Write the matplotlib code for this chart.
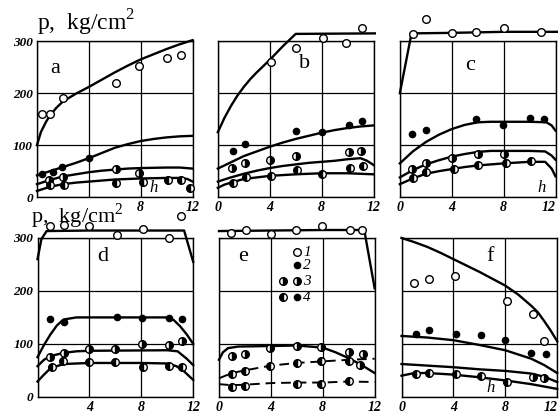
import matplotlib
matplotlib.use("Agg")
import matplotlib.pyplot as plt

plt.rcParams['font.family'] = ['Liberation Serif', 'DejaVu Serif']
plt.rcParams['mathtext.fontset'] = 'custom'
plt.rcParams['mathtext.rm'] = 'Liberation Serif'

# x axis ticks / y axis ticks
x_ticks = [0, 4, 8, 12]
y_ticks = [0, 100, 200, 300]

# ---- panel a ----
a_line1 = [(0, 100), (0.3, 125), (0.7, 145), (1, 157), (1.5, 172), (2, 184), (3, 199), (4, 212),
           (5, 226), (6, 240), (7, 253), (8, 265), (9, 275), (10, 285), (11, 294), (12, 302)]
a_line2 = [(0, 42), (1, 50), (2, 58), (3, 66), (4, 75), (5, 85), (6, 95), (7, 102), (8, 108),
           (9, 112), (10, 115), (11, 117), (12, 118)]
a_line3 = [(0, 25), (1, 33), (2, 40), (3, 44), (4, 48), (5, 51), (6, 53), (7, 55), (8, 56),
           (10, 57), (11, 57), (12, 55)]
a_line4 = [(0, 12), (1, 20), (2, 25), (3, 28), (4, 30), (6, 34), (8, 36), (10, 37), (11, 37),
           (11.6, 35), (12, 30)]
a_pts1 = [(0.4, 160), (1.0, 160), (2.0, 191), (6.1, 220), (7.9, 252), (10.0, 268), (11.1, 273)]
a_pts2 = [(0.4, 44), (1.2, 49), (1.9, 59), (4.0, 75)]
a_pts3 = [(0.9, 33), (2.0, 38), (6.1, 54), (7.9, 47)]
a_pts4 = [(1.0, 24), (2.1, 24), (6.1, 27), (8.2, 30), (10.1, 33), (11.1, 33), (11.8, 17)]

# ---- panel b ----
b_line1 = [(0, 125), (0.5, 152), (1, 175), (1.5, 195), (2, 212), (2.5, 227), (3, 240), (3.5, 252),
           (4, 264), (4.5, 277), (5, 290), (5.5, 302), (6, 314), (12.1, 315)]
b_line2 = [(0, 55), (1, 67), (2, 79), (3, 88), (4, 97), (5, 105), (6, 112), (7, 118), (8, 124),
           (9, 129), (10, 133), (11, 136), (12, 138)]
b_line3 = [(0, 30), (1, 38), (2, 45), (3, 51), (4, 56), (5, 60), (6, 63), (7, 66), (8, 68),
           (9, 70), (10, 73), (11, 75), (11.5, 70), (12, 62)]
b_line4 = [(0, 18), (0.5, 24), (1, 28), (2, 35), (3, 38), (4, 41), (6, 44), (8, 46), (10, 46), (12, 44)]
b_pts1 = [(4.06, 260), (6.05, 287), (8.1, 306), (9.9, 296), (11.1, 325)]
b_pts2 = [(1.15, 89), (2.1, 102), (6.05, 127), (8.0, 126), (10.1, 139), (11.1, 146)]
b_pts3 = [(1.07, 56), (2.1, 66), (4.0, 72), (6.05, 80), (10.1, 86), (11.0, 89)]
b_pts4 = [(1.2, 28), (2.2, 38), (4.06, 40), (6.1, 52), (8.0, 45), (10.2, 56), (11.2, 60)]

# ---- panel c ----
c_line1 = [(0, 200), (0.9, 315), (4, 316), (8, 318), (12.1, 318)]
c_line2 = [(0, 65), (1, 88), (2, 106), (3, 120), (4, 131), (5, 139), (6, 144), (7, 145), (8, 145),
           (10, 145), (11.3, 144), (11.7, 138), (12, 128)]
c_line3 = [(0, 38), (1, 52), (2, 63), (3, 71), (4, 78), (5, 83), (6, 87), (7, 89), (8, 89),
           (10, 89), (11.2, 88), (11.7, 80), (12, 72)]
c_line4 = [(0, 25), (1, 36), (2, 45), (3, 50), (4, 54), (5, 58), (6, 61), (7, 63), (8, 65),
           (10, 68), (11.2, 68), (11.7, 55), (12, 40)]
c_pts1 = [(1.0, 314), (2.05, 342), (4.0, 316), (5.9, 317), (8.0, 325), (10.9, 318)]
c_pts2 = [(0.9, 121), (2.0, 130), (5.9, 150), (7.95, 139), (10.0, 153), (11.1, 151)]
c_pts3 = [(0.9, 54), (2.0, 66), (4.05, 75), (6.0, 84), (8.0, 83)]
c_pts4 = [(1.0, 36), (2.05, 49), (4.2, 54), (6.0, 61), (8.2, 66), (10.1, 70)]

# ---- panel d ----
d_line1 = [(0, 260), (0.3, 298), (0.7, 313), (4, 314), (8, 314), (11.3, 314), (12, 255)]
d_line2 = [(0, 75), (0.5, 98), (1, 118), (1.5, 135), (2, 146), (3, 150), (10, 150), (10.5, 145),
           (11, 133), (11.5, 118), (12, 100)]
d_line3 = [(0, 58), (0.5, 70), (1, 77), (2, 83), (3, 86), (4, 87), (10, 88), (10.8, 86),
           (11.5, 72), (12, 60)]
d_line4 = [(0, 29), (0.5, 42), (1, 54), (2, 62), (4, 64), (8, 64), (10, 63), (10.7, 58),
           (11.3, 48), (12, 32)]
d_pts1 = [(0.95, 323), (2.05, 325), (4.0, 323), (6.1, 306), (8.1, 316), (10.1, 300), (11.05, 341)]
d_pts2 = [(0.95, 147), (2.05, 142), (6.1, 150), (8.05, 148), (10.1, 148), (11.1, 147)]
d_pts3 = [(1.0, 76), (2.05, 82), (4.0, 90), (6.0, 91), (8.05, 100), (10.1, 98), (11.1, 106)]
d_pts4 = [(1.1, 57), (2.0, 67), (4.0, 65), (6.0, 65), (8.1, 57), (10.1, 58), (11.1, 57)]

# ---- panel e ----
e_line1 = [(0, 313), (4, 314), (8, 315), (11.2, 315), (12, 205)]
e_line2 = [(0, 70), (0.3, 84), (0.7, 92), (1.5, 95), (4, 96), (6, 97), (8, 93), (9, 84),
           (10, 73), (11, 60), (12, 45)]
e_line3 = [(0, 35), (1, 45), (2, 50), (4, 59), (6, 64), (8, 67), (10, 70), (12, 72)]
e_line4 = [(0, 24), (1, 22), (2, 23), (4, 26), (6, 27), (8, 27), (10, 29), (12, 28)]
e_pts1 = [(0.95, 309), (2.1, 315), (4.0, 307), (5.95, 315), (7.95, 323), (10.1, 315), (11.0, 315)]
e_pts3 = [(1.0, 77), (2.0, 80), (3.9, 93), (6.0, 96), (7.9, 94), (10.0, 84), (11.1, 80), (10.9, 61)]
e_pts4 = [(1.0, 44), (2.0, 48), (3.9, 59), (6.0, 64), (7.9, 67), (10.0, 68),
          (1.0, 19), (2.0, 21), (6.0, 25), (7.9, 24), (10.0, 30)]

# ---- panel f ----
f_line1 = [(0, 300), (1, 292), (2, 283), (3, 272), (4, 260), (5, 248), (6, 236), (7, 223), (8, 210),
           (9, 193), (10, 172), (10.5, 160), (11, 143), (11.5, 125), (12, 105)]
f_line2 = [(0, 115), (2, 112), (4, 107), (6, 98), (8, 88), (9, 80), (10, 72), (11, 60), (12, 45)]
f_line3 = [(0, 62), (2, 59), (4, 56), (6, 52), (8, 49), (10, 44), (11, 38), (12, 28)]
f_line4 = [(0, 40), (1, 45), (2, 45), (4, 42), (6, 37), (8, 31), (10, 24), (12, 15)]
f_pts1 = [(0.95, 215), (2.1, 223), (4.1, 228), (8.1, 181), (10.1, 157), (11.0, 105)]
f_pts2 = [(1.1, 119), (2.1, 127), (4.2, 118), (6.1, 116), (7.95, 108), (10.0, 82), (11.1, 80)]
f_pts3 = [(10.1, 38), (11.0, 36)]
f_pts4 = [(1.1, 43), (2.1, 45), (4.2, 44), (6.1, 39), (8.1, 28)]

# marker styles for the four series
styles = {
    1: dict(marker='o', ms=5.5, mfc='white', mec='black', mew=1.0),
    2: dict(marker='o', ms=4.5, mfc='black', mec='black', mew=1.0),
    3: dict(marker='o', ms=5.5, fillstyle='right', mfc='black', mfcalt='white', mec='black', mew=1.0),
    4: dict(marker='o', ms=5.5, fillstyle='left', mfc='black', mfcalt='white', mec='black', mew=1.0),
}


def draw_line(ax, pts, ls='-'):
    xs = [p[0] for p in pts]
    ys = [p[1] for p in pts]
    if ls == '-':
        ax.plot(xs, ys, color='black', lw=1.7, clip_on=False, zorder=3)
    else:
        ax.plot(xs, ys, color='black', lw=1.4, ls=(0, (5, 3)), clip_on=False, zorder=3)


def draw_pts(ax, pts, kind):
    xs = [p[0] for p in pts]
    ys = [p[1] for p in pts]
    ax.plot(xs, ys, ls='none', clip_on=False, zorder=4, **styles[kind])


def setup(ax, xlabels, ylabels, edge=False):
    ax.set_xlim(0, 12)
    ax.set_ylim(0, 300)
    ax.set_xticks(x_ticks)
    ax.set_yticks(y_ticks)
    labs = ax.set_xticklabels(xlabels, fontstyle='italic', fontweight='bold', fontsize=10)
    if edge:
        labs[-1].set_ha('right')
    if ylabels:
        ax.set_yticklabels(['0', '100', '200', '300'], fontstyle='italic', fontweight='bold', fontsize=9.5)
    else:
        ax.set_yticklabels([])
    ax.tick_params(length=0, pad=3)
    ax.grid(True, color='black', lw=0.9)
    ax.set_axisbelow(True)
    for s in ax.spines.values():
        s.set_linewidth(1.0)


fig = plt.figure(figsize=(5.6, 4.16), dpi=100)

top_b, top_h = 0.526, 0.375
bot_b, bot_h = 0.046, 0.382
w = 0.278

ax_a = fig.add_axes([0.066, top_b, w, top_h])
ax_b = fig.add_axes([0.389, top_b, w, top_h])
ax_c = fig.add_axes([0.714, top_b, w, top_h])
ax_d = fig.add_axes([0.067, bot_b, w, bot_h])
ax_e = fig.add_axes([0.391, bot_b, w, bot_h])
ax_f = fig.add_axes([0.717, bot_b, w, bot_h])

all_lab = ['0', '4', '8', '12']
setup(ax_a, ['', '', '8', '12'], True)
setup(ax_b, all_lab, False)
setup(ax_c, all_lab, False, edge=True)
setup(ax_d, ['', '4', '8', '12'], True)
setup(ax_e, all_lab, False)
setup(ax_f, all_lab, False, edge=True)

panels = [
    (ax_a, [a_line1, a_line2, a_line3, a_line4], [(a_pts1, 1), (a_pts2, 2), (a_pts3, 3), (a_pts4, 4)]),
    (ax_b, [b_line1, b_line2, b_line3, b_line4], [(b_pts1, 1), (b_pts2, 2), (b_pts3, 3), (b_pts4, 4)]),
    (ax_c, [c_line1, c_line2, c_line3, c_line4], [(c_pts1, 1), (c_pts2, 2), (c_pts3, 3), (c_pts4, 4)]),
    (ax_d, [d_line1, d_line2, d_line3, d_line4], [(d_pts1, 1), (d_pts2, 2), (d_pts3, 3), (d_pts4, 4)]),
    (ax_f, [f_line1, f_line2, f_line3, f_line4], [(f_pts1, 1), (f_pts2, 2), (f_pts3, 3), (f_pts4, 4)]),
]
for ax, lines, pts in panels:
    for ln in lines:
        draw_line(ax, ln)
    for p, k in pts:
        draw_pts(ax, p, k)

# panel e: lower two curves dashed
draw_line(ax_e, e_line1)
draw_line(ax_e, e_line2)
draw_line(ax_e, e_line3, ls='--')
draw_line(ax_e, e_line4, ls='--')
draw_pts(ax_e, e_pts1, 1)
draw_pts(ax_e, e_pts3, 3)
draw_pts(ax_e, e_pts4, 4)

# panel letters
for ax, letter, x, y in [(ax_a, 'a', 1.4, 248), (ax_b, 'b', 6.7, 258), (ax_c, 'c', 5.4, 254),
                         (ax_d, 'd', 5.0, 265), (ax_e, 'e', 1.85, 265), (ax_f, 'f', 6.8, 265)]:
    ax.text(x, y, letter, fontsize=16, ha='center', va='center')

# h labels
ax_a.text(9.0, 18, 'h', fontsize=12, fontstyle='italic', ha='center', va='center')
ax_c.text(10.9, 17, 'h', fontsize=12, fontstyle='italic', ha='center', va='center')
ax_f.text(6.85, 16, 'h', fontsize=12, fontstyle='italic', ha='center', va='center')

# legend in panel e
leg_rows = [(273, [1], '1'), (248, [2], '2'), (218, [3, 3], '3'), (188, [4, 2], '4')]
for y, kinds, lab in leg_rows:
    if len(kinds) == 1:
        ax_e.plot([6.0], [y], ls='none', **styles[kinds[0]])
    else:
        ax_e.plot([4.9], [y], ls='none', **styles[kinds[0]])
        ax_e.plot([6.0], [y], ls='none', **styles[kinds[1]])
    ax_e.text(6.5, y, lab, fontsize=11, fontstyle='italic', va='center', ha='left')

# y-axis labels
ylab = 'p,  kg/cm$^{\\mathregular{2}}$'
fig.text(37 / 560, (416 - 31) / 416, ylab, fontsize=17, ha='left', va='baseline')
fig.text(31 / 560, (416 - 223) / 416, ylab, fontsize=16, ha='left', va='baseline')

fig.savefig('out.png', dpi=100)
